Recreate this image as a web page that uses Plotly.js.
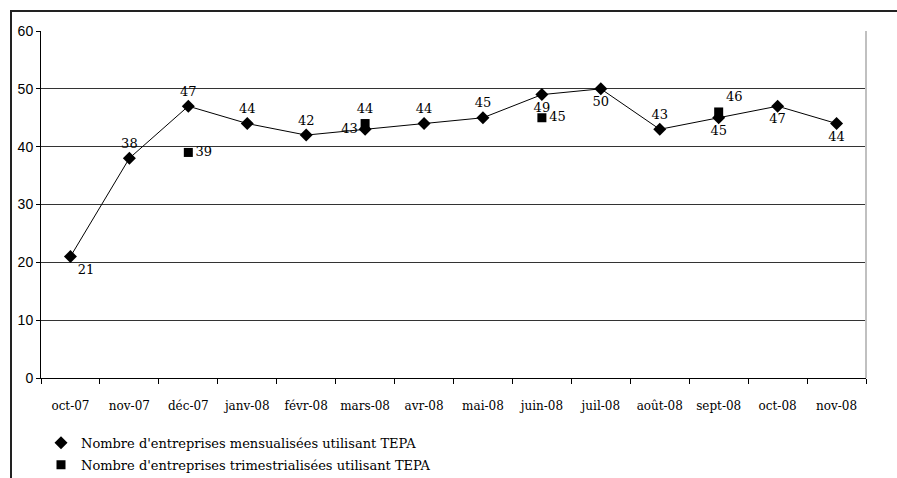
<!DOCTYPE html>
<html>
<head>
<meta charset="utf-8">
<script src="https://cdn.plot.ly/plotly-3.0.1.min.js"></script>
<style>
  html, body { margin: 0; padding: 0; background: #fff; }
  #wrap { position: relative; width: 897px; height: 478px; overflow: hidden; }
  #chart { width: 897px; height: 478px; }
  #frame { position: absolute; left: 10px; top: 10px; width: 900px; height: 480px;
           border-left: 2px solid #222; border-top: 2px solid #222; pointer-events: none; }
</style>
</head>
<body>
<div id="wrap">
  <div id="chart"></div>
  <div id="frame"></div>
</div>
<script>
// Monthly figures, Oct 2007 – Nov 2008
const months = ['oct-07', 'nov-07', 'déc-07', 'janv-08', 'févr-08', 'mars-08', 'avr-08',
                'mai-08', 'juin-08', 'juil-08', 'août-08', 'sept-08', 'oct-08', 'nov-08'];
const mensualisees = [21, 38, 47, 44, 42, 43, 44, 45, 49, 50, 43, 45, 47, 44];
const mensualiseesLabelPos = ['bottom right', 'top center', 'top center', 'top center',
                              'top center', 'middle left', 'top center', 'top center',
                              'bottom center', 'bottom center', 'top center', 'bottom center',
                              'bottom center', 'bottom center'];

// Quarterly figures, reported at the quarter's month
const trimMonths = ['déc-07', 'mars-08', 'juin-08', 'sept-08'];
const trimestrialisees = [39, 44, 45, 46];
const trimLabelPos = ['middle right', 'top center', 'middle right', 'top right'];

const serif = 'DejaVu Serif';
const sans = 'Liberation Sans, Arial, sans-serif';

const traces = [
  { // connecting line of the monthly series
    x: months, y: mensualisees, type: 'scatter', mode: 'lines',
    line: { color: '#000', width: 1 }, showlegend: false, hoverinfo: 'skip'
  },
  {
    x: months, y: mensualisees, type: 'scatter', mode: 'markers',
    name: "Nombre d'entreprises mensualisées utilisant TEPA", legendgroup: 'mens',
    marker: { symbol: 'diamond', size: 10, color: '#000' }
  },
  {
    x: trimMonths, y: trimestrialisees, type: 'scatter', mode: 'markers',
    name: "Nombre d'entreprises trimestrialisées utilisant TEPA", legendgroup: 'trim',
    marker: { symbol: 'square', size: 9, color: '#000' }
  },
  { // value labels (transparent markers only set the label offset)
    x: months, y: mensualisees, type: 'scatter', mode: 'markers+text',
    marker: { size: 10, color: 'rgba(0,0,0,0)' },
    text: mensualisees.map(String), textposition: mensualiseesLabelPos,
    textfont: { family: serif, size: 13, color: '#000' },
    showlegend: false, hoverinfo: 'skip'
  },
  {
    x: trimMonths, y: trimestrialisees, type: 'scatter', mode: 'markers+text',
    marker: { size: 10, color: 'rgba(0,0,0,0)' },
    text: trimestrialisees.map(String), textposition: trimLabelPos,
    textfont: { family: serif, size: 13, color: '#000' },
    showlegend: false, hoverinfo: 'skip'
  }
];

const layout = {
  width: 897, height: 478,
  margin: { l: 41, r: 31, t: 31, b: 100 },
  paper_bgcolor: '#fff', plot_bgcolor: '#fff',
  showlegend: true,
  legend: {
    x: 0, xref: 'paper', y: 0.105, yref: 'container', xanchor: 'left', yanchor: 'top',
    orientation: 'v', font: { family: serif, size: 13, color: '#000' },
    bgcolor: 'rgba(0,0,0,0)', itemwidth: 30, tracegroupgap: 2
  },
  xaxis: {
    type: 'category', categoryorder: 'array', categoryarray: months,
    range: [-0.5, months.length - 0.5],
    showgrid: false, zeroline: false,
    showline: true, linecolor: '#000', linewidth: 1,
    ticks: 'outside', tickson: 'boundaries', ticklen: 5, tickcolor: '#000',
    tickangle: 0, ticklabelstandoff: 17,
    tickfont: { family: serif, size: 12, color: '#000' }
  },
  yaxis: {
    range: [0, 60], dtick: 10, tick0: 0,
    showgrid: true, gridcolor: '#333', gridwidth: 1, zeroline: false,
    showline: true, linecolor: '#000', linewidth: 1,
    ticks: 'outside', ticklen: 4, tickcolor: '#000',
    tickfont: { family: sans, size: 14, color: '#000' }
  },
  shapes: [
    { type: 'line', xref: 'paper', yref: 'paper', x0: 1, x1: 1, y0: 0, y1: 1,
      line: { color: '#c0c0c0', width: 2 } }
  ]
};

Plotly.newPlot('chart', traces, layout, { displayModeBar: false, staticPlot: true });
</script>
</body>
</html>
